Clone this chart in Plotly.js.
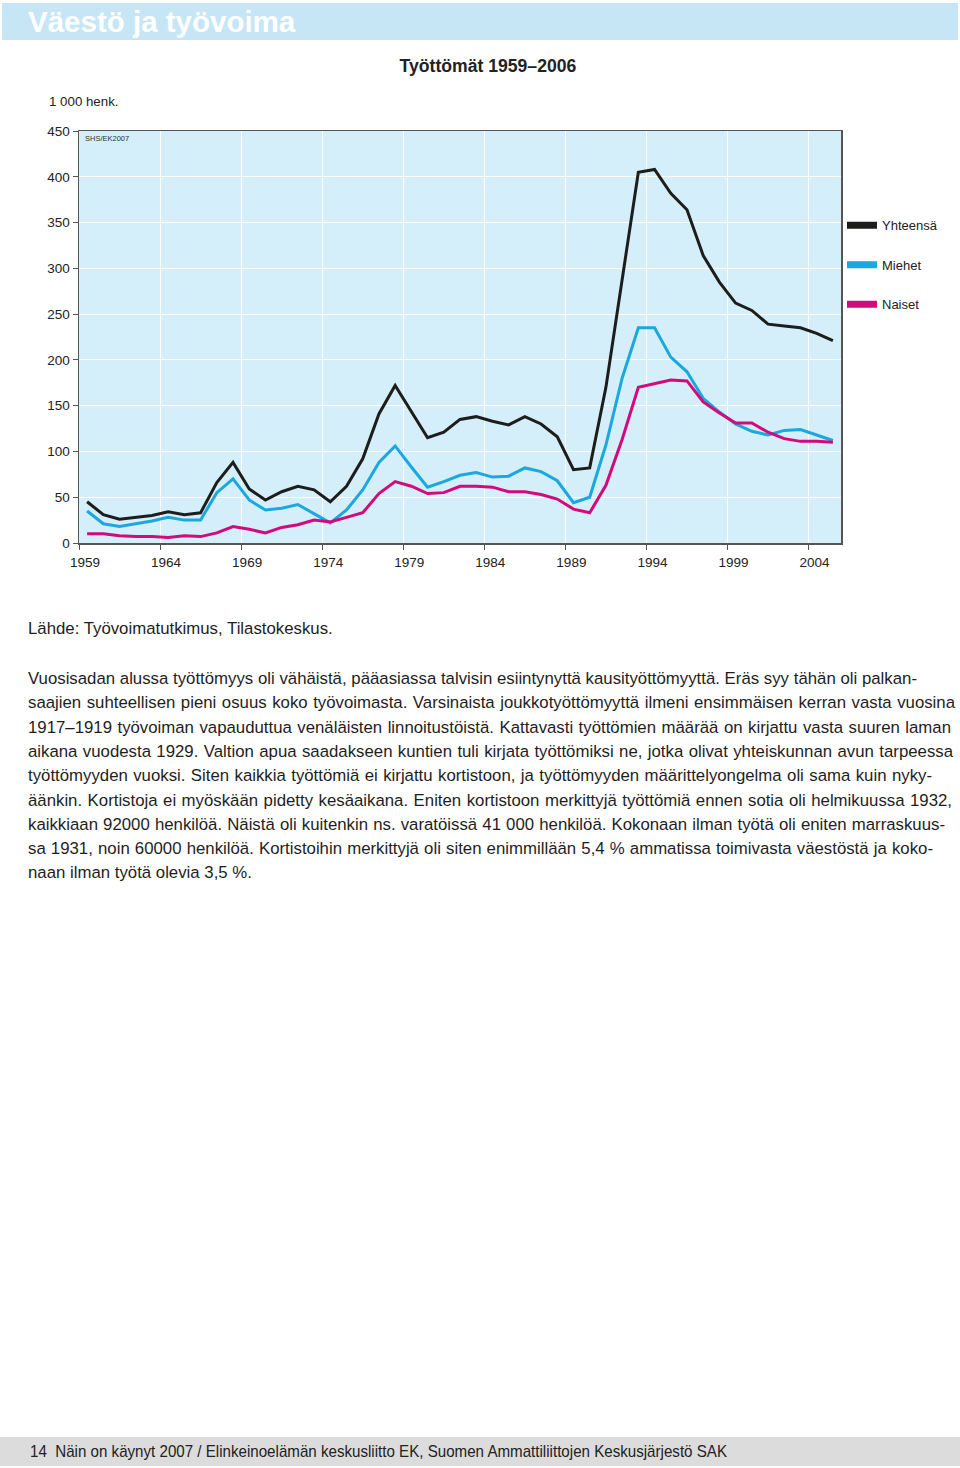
<!DOCTYPE html>
<html>
<head>
<meta charset="utf-8">
<script src="https://cdn.plot.ly/plotly-3.0.1.min.js"></script>
<style>
html,body{margin:0;padding:0;background:#ffffff;}
body{width:960px;height:1468px;position:relative;overflow:hidden;font-family:"Liberation Sans",Arial,Helvetica,sans-serif;color:#1e1e1e;}
#hdr{position:absolute;left:2px;top:3px;width:956px;height:37px;background:#c6e6f6;}
#hdrtxt{position:absolute;left:26px;top:2px;color:#ffffff;font-weight:bold;font-size:29.5px;line-height:34px;white-space:nowrap;}
#chart{position:absolute;left:0;top:0;width:960px;height:600px;}
.ln{position:absolute;left:28px;font-size:16.8px;line-height:20px;white-space:nowrap;}
#ftr{position:absolute;left:0;top:1437px;width:960px;height:29px;background:#dcdcdc;}
#ftrtxt{position:absolute;left:30px;top:5px;font-family:"Liberation Sans Narrow","Arial Narrow","Liberation Sans",Arial,sans-serif;font-size:17px;line-height:20px;white-space:nowrap;transform-origin:0 50%;color:#222;}
</style>
</head>
<body>
<div id="hdr"><span id="hdrtxt">Väestö ja työvoima</span></div>
<div id="chart"></div>
<div class="ln" id="src" style="top:619px;">Lähde: Työvoimatutkimus, Tilastokeskus.</div>
<div id="para"></div>
<div id="ftr"><span id="ftrtxt">14&nbsp;&nbsp;Näin on käynyt 2007 / Elinkeinoelämän keskusliitto EK, Suomen Ammattiliittojen Keskusjärjestö SAK</span></div>
<script>
// ---- data (thousand persons) ----
const years = [1959,1960,1961,1962,1963,1964,1965,1966,1967,1968,1969,1970,1971,1972,1973,1974,1975,1976,1977,1978,1979,1980,1981,1982,1983,1984,1985,1986,1987,1988,1989,1990,1991,1992,1993,1994,1995,1996,1997,1998,1999,2000,2001,2002,2003,2004,2005];
const total = [45,31,26,28,30,34,31,33,66,88,59,47,56,62,58,45,62,92,141,172,143,115,121,135,138,133,129,138,130,116,80,82,170,287,405,408,382,364,314,285,262,254,239,237,235,229,221];
const men   = [35,21,18,21,24,28,25,25,55,70,47,36,38,42,32,22,36,58,88,106,83,61,67,74,77,72,73,82,78,68,44,50,107,180,235,235,203,187,158,143,130,122,118,123,124,118,112];
const women = [10,10,8,7,7,6,8,7,11,18,15,11,17,20,25,23,28,33,54,67,62,54,55,62,62,61,56,56,53,48,37,33,63,113,170,174,178,177,154,142,131,131,121,114,111,111,110];
const tickYears = [1959,1964,1969,1974,1979,1984,1989,1994,1999,2004];
const yTicks = [0,50,100,150,200,250,300,350,400,450];
const seriesNames = ['Yhteensä','Miehet','Naiset'];
const chartTitle = 'Työttömät 1959–2006';
const unitLabel = '1 000 henk.';
const stamp = 'SHS/EK2007';

const colTotal = '#1d1d1b', colMen = '#1aa8de', colWomen = '#d20a7b';
const xs = years.map(y => y + 0.5);

const traces = [
  {x: xs, y: men, type:'scatter', mode:'lines', line:{color:colMen, width:3}, showlegend:false, hoverinfo:'skip'},
  {x: xs, y: women, type:'scatter', mode:'lines', line:{color:colWomen, width:3}, showlegend:false, hoverinfo:'skip'},
  {x: xs, y: total, type:'scatter', mode:'lines', line:{color:colTotal, width:3}, showlegend:false, hoverinfo:'skip'},
  {x:[null], y:[null], type:'scatter', mode:'lines', name:seriesNames[0], line:{color:colTotal, width:7}, legendgroup:'a'},
  {x:[null], y:[null], type:'scatter', mode:'lines', name:seriesNames[1], line:{color:colMen, width:7}, legendgroup:'b'},
  {x:[null], y:[null], type:'scatter', mode:'lines', name:seriesNames[2], line:{color:colWomen, width:7}, legendgroup:'c'}
];

const axisFont = {family:'"Liberation Sans", Arial, sans-serif', size:13.5, color:'#222'};
const layout = {
  width:960, height:600,
  margin:{l:79, r:119, t:131, b:57, pad:0},
  paper_bgcolor:'rgba(0,0,0,0)',
  plot_bgcolor:'#d4eefa',
  font:axisFont,
  title:{text:'<b>'+chartTitle+'</b>', xref:'container', yref:'container', x:0.5083, y:0.89, xanchor:'center', yanchor:'middle',
         font:{family:'"Liberation Sans", Arial, sans-serif', size:17.6, color:'#222'}},
  xaxis:{range:[1959,2006], tickmode:'array', tickvals:tickYears, ticktext:tickYears.map(String),
         ticks:'outside', ticklen:5, tickwidth:1, tickcolor:'#555', ticklabelshift:6, ticklabelstandoff:1,
         showgrid:true, gridcolor:'#ffffff', gridwidth:1, zeroline:false,
         showline:true, linecolor:'#555', linewidth:1.5, mirror:true, tickfont:axisFont, fixedrange:true},
  yaxis:{range:[0,450], tickmode:'array', tickvals:yTicks, ticktext:yTicks.map(String),
         ticks:'outside', ticklen:5, tickwidth:1, tickcolor:'#555',
         showgrid:true, gridcolor:'#ffffff', gridwidth:1, zeroline:false,
         showline:true, linecolor:'#555', linewidth:1.5, mirror:true, tickfont:axisFont, fixedrange:true},
  legend:{x:1.0013, xanchor:'left', y:0.8075, yanchor:'top', tracegroupgap:19.6, itemwidth:30,
          bgcolor:'rgba(0,0,0,0)', borderwidth:0, traceorder:'grouped',
          font:{family:'"Liberation Sans", Arial, sans-serif', size:13, color:'#222'}},
  annotations:[
    {text:unitLabel, xref:'paper', yref:'paper', x:-0.042, y:1.0705, xanchor:'left', yanchor:'middle', showarrow:false,
     font:{family:'"Liberation Sans", Arial, sans-serif', size:13.3, color:'#222'}},
    {text:stamp, xref:'paper', yref:'paper', x:0.005, y:0.982, xanchor:'left', yanchor:'middle', showarrow:false,
     font:{family:'"Liberation Sans", Arial, sans-serif', size:7.5, color:'#333'}}
  ]
};
Plotly.newPlot('chart', traces, layout, {staticPlot:true, displayModeBar:false});

// ---- body text ----
const paraLines = [
 'Vuosisadan alussa työttömyys oli vähäistä, pääasiassa talvisin esiintynyttä kausityöttömyyttä. Eräs syy tähän oli palkan-',
 'saajien suhteellisen pieni osuus koko työvoimasta. Varsinaista joukkotyöttömyyttä ilmeni ensimmäisen kerran vasta vuosina',
 '1917–1919 työvoiman vapauduttua venäläisten linnoitustöistä. Kattavasti työttömien määrää on kirjattu vasta suuren laman',
 'aikana vuodesta 1929. Valtion apua saadakseen kuntien tuli kirjata työttömiksi ne, jotka olivat yhteiskunnan avun tarpeessa',
 'työttömyyden vuoksi. Siten kaikkia työttömiä ei kirjattu kortistoon, ja työttömyyden määrittelyongelma oli sama kuin nyky-',
 'äänkin. Kortistoja ei myöskään pidetty kesäaikana. Eniten kortistoon merkittyjä työttömiä ennen sotia oli helmikuussa 1932,',
 'kaikkiaan 92000 henkilöä. Näistä oli kuitenkin ns. varatöissä 41 000 henkilöä. Kokonaan ilman työtä oli eniten marraskuus-',
 'sa 1931, noin 60000 henkilöä. Kortistoihin merkittyjä oli siten enimmillään 5,4 % ammatissa toimivasta väestöstä ja koko-',
 'naan ilman työtä olevia 3,5 %.'
];
const lineRight = [917,955,951,953,932,952,945,933,null];
const para = document.getElementById('para');
paraLines.forEach((t,i) => {
  const d = document.createElement('div');
  d.className = 'ln';
  d.style.top = (669 + i*24.3) + 'px';
  d.textContent = t;
  para.appendChild(d);
  if (lineRight[i]) {
    const w = d.getBoundingClientRect().width;
    const target = lineRight[i] - 28;
    const spaces = (t.match(/ /g) || []).length;
    d.style.wordSpacing = ((target - w) / spaces) + 'px';
  }
});
// fit footer text width
const f = document.getElementById('ftrtxt');
const fw = f.getBoundingClientRect().width;
f.style.transform = 'scaleX(' + (697 / fw) + ')';
</script>
</body>
</html>
